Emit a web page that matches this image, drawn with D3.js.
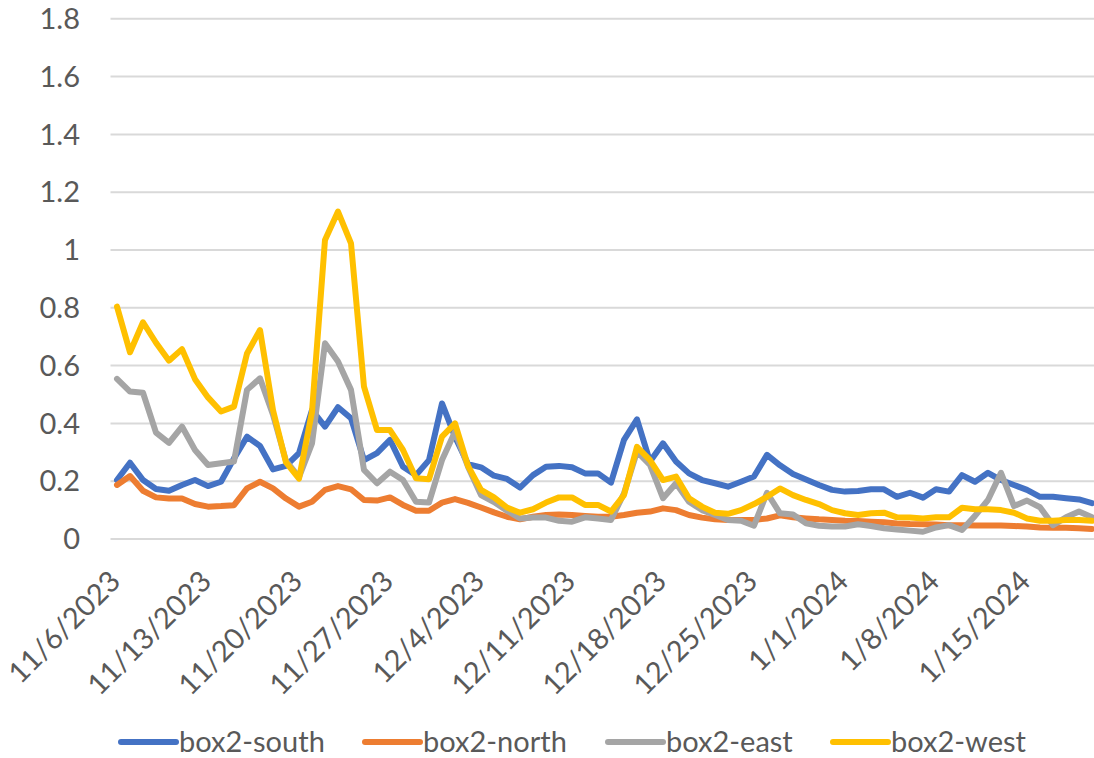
<!DOCTYPE html>
<html>
<head>
<meta charset="utf-8">
<script src="https://cdn.jsdelivr.net/npm/d3@7"></script>
<style>
  html, body { margin: 0; padding: 0; background: #ffffff; }
  svg { display: block; }
  text { font-family: Lato, "Open Sans", sans-serif; fill: #595959; }
</style>
</head>
<body>
<svg id="chart" width="1094" height="758"></svg>
<script>
// ---- data ----
const startDate = "2023-11-06";
const endDate = "2024-01-20";
const seriesNames = ["box2-south", "box2-north", "box2-east", "box2-west"];
const seriesColors = ["#4472C4", "#ED7D31", "#A5A5A5", "#FFC000"];
const south = [0.204,0.264,0.204,0.173,0.167,0.187,0.204,0.183,0.198,0.279,
  0.354,0.322,0.241,0.253,0.297,0.446,0.389,0.456,0.418,0.273,
  0.297,0.343,0.250,0.221,0.273,0.469,0.354,0.259,0.248,0.219,
  0.208,0.178,0.221,0.250,0.253,0.248,0.227,0.227,0.195,0.343,
  0.414,0.268,0.331,0.268,0.227,0.204,0.193,0.181,0.198,0.216,
  0.291,0.255,0.225,0.206,0.187,0.170,0.164,0.166,0.172,0.172,
  0.146,0.160,0.143,0.172,0.164,0.221,0.198,0.229,0.204,0.187,
  0.170,0.146,0.146,0.141,0.137,0.124];
const north = [0.187,0.218,0.167,0.144,0.140,0.140,0.121,0.112,0.114,0.117,
  0.175,0.198,0.175,0.140,0.112,0.129,0.170,0.183,0.172,0.135,
  0.133,0.144,0.118,0.098,0.098,0.126,0.138,0.125,0.109,0.092,
  0.077,0.068,0.077,0.083,0.085,0.083,0.080,0.077,0.077,0.083,
  0.091,0.095,0.106,0.100,0.083,0.074,0.068,0.066,0.066,0.066,
  0.071,0.082,0.075,0.071,0.068,0.066,0.063,0.062,0.060,0.058,
  0.054,0.052,0.051,0.050,0.048,0.048,0.047,0.047,0.047,0.045,
  0.043,0.040,0.039,0.039,0.037,0.035];
const east = [0.554,0.510,0.506,0.368,0.333,0.389,0.308,0.256,0.262,0.268,
  0.516,0.556,0.430,0.270,0.214,0.331,0.677,0.614,0.516,0.239,
  0.193,0.233,0.204,0.129,0.126,0.273,0.371,0.250,0.152,0.128,
  0.098,0.071,0.074,0.074,0.063,0.060,0.075,0.071,0.066,0.158,
  0.302,0.256,0.141,0.193,0.129,0.100,0.083,0.066,0.063,0.046,
  0.160,0.089,0.085,0.054,0.046,0.043,0.043,0.051,0.045,0.037,
  0.033,0.029,0.025,0.040,0.048,0.031,0.080,0.135,0.229,0.114,
  0.133,0.110,0.048,0.075,0.095,0.075];
const west = [0.804,0.646,0.750,0.679,0.617,0.657,0.553,0.490,0.441,0.458,
  0.642,0.723,0.446,0.265,0.209,0.440,1.035,1.133,1.023,0.527,
  0.377,0.377,0.308,0.210,0.207,0.354,0.400,0.253,0.170,0.144,
  0.109,0.091,0.103,0.126,0.144,0.144,0.118,0.118,0.095,0.152,
  0.319,0.273,0.204,0.216,0.141,0.112,0.091,0.087,0.100,0.121,
  0.146,0.175,0.152,0.135,0.121,0.100,0.089,0.083,0.089,0.091,
  0.075,0.074,0.071,0.075,0.075,0.108,0.103,0.103,0.100,0.091,
  0.071,0.063,0.063,0.066,0.066,0.063];
const yTicks = [0, 0.2, 0.4, 0.6, 0.8, 1, 1.2, 1.4, 1.6, 1.8];
const xTickLabels = ["11/6/2023","11/13/2023","11/20/2023","11/27/2023","12/4/2023",
  "12/11/2023","12/18/2023","12/25/2023","1/1/2024","1/8/2024","1/15/2024"];

// ---- build ----
const parseISO = d3.timeParse("%Y-%m-%d");
const parseMDY = d3.timeParse("%m/%d/%Y");
const d0 = parseISO(startDate), d1 = parseISO(endDate);
const dates = d3.timeDay.range(d0, d3.timeDay.offset(d1, 1));
const seriesValues = [south, north, east, west];

const svg = d3.select("#chart");
const W = 1094, H = 758;
const plotLeft = 110.5, plotTop = 18.8, plotBottom = 539;

const x = d3.scaleTime().domain([d0, d1]).range([117, 1092]);
const y = d3.scaleLinear().domain([0, 1.8]).range([plotBottom, plotTop]);

// gridlines
svg.append("g").selectAll("line").data(yTicks).join("line")
  .attr("x1", plotLeft).attr("x2", W)
  .attr("y1", d => y(d)).attr("y2", d => y(d))
  .attr("stroke", "#D9D9D9").attr("stroke-width", 2);

// y labels
svg.append("g").selectAll("text").data(yTicks).join("text")
  .attr("x", 80).attr("y", d => y(d))
  .attr("text-anchor", "end").attr("dy", "0.35em")
  .style("font-size", "29px")
  .text(d => d3.format("")(+d.toFixed(1)));

// x labels
svg.append("g").selectAll("text").data(xTickLabels).join("text")
  .attr("transform", d => `translate(${x(parseMDY(d)) - 2},${576}) rotate(-45)`)
  .attr("text-anchor", "end").attr("dy", "0.35em")
  .style("font-size", "29px")
  .text(d => d);

// lines
const line = d3.line().x((d, i) => x(dates[i])).y(d => y(d));
svg.append("g").selectAll("path").data(seriesValues).join("path")
  .attr("d", d => line(d))
  .attr("fill", "none")
  .attr("stroke", (d, i) => seriesColors[i])
  .attr("stroke-width", 6)
  .attr("stroke-linejoin", "round")
  .attr("stroke-linecap", "round");

// legend
const legendX = [121, 365, 608, 833];
const lg = svg.append("g").selectAll("g").data(seriesNames).join("g")
  .attr("transform", (d, i) => `translate(${legendX[i]},742)`);
lg.append("line").attr("x1", 0).attr("x2", 55).attr("y1", 0).attr("y2", 0)
  .attr("stroke", (d, i) => seriesColors[i]).attr("stroke-width", 6)
  .attr("stroke-linecap", "round");
lg.append("text").attr("x", 58).attr("dy", "0.35em")
  .style("font-size", "29px").text(d => d);
</script>
</body>
</html>
